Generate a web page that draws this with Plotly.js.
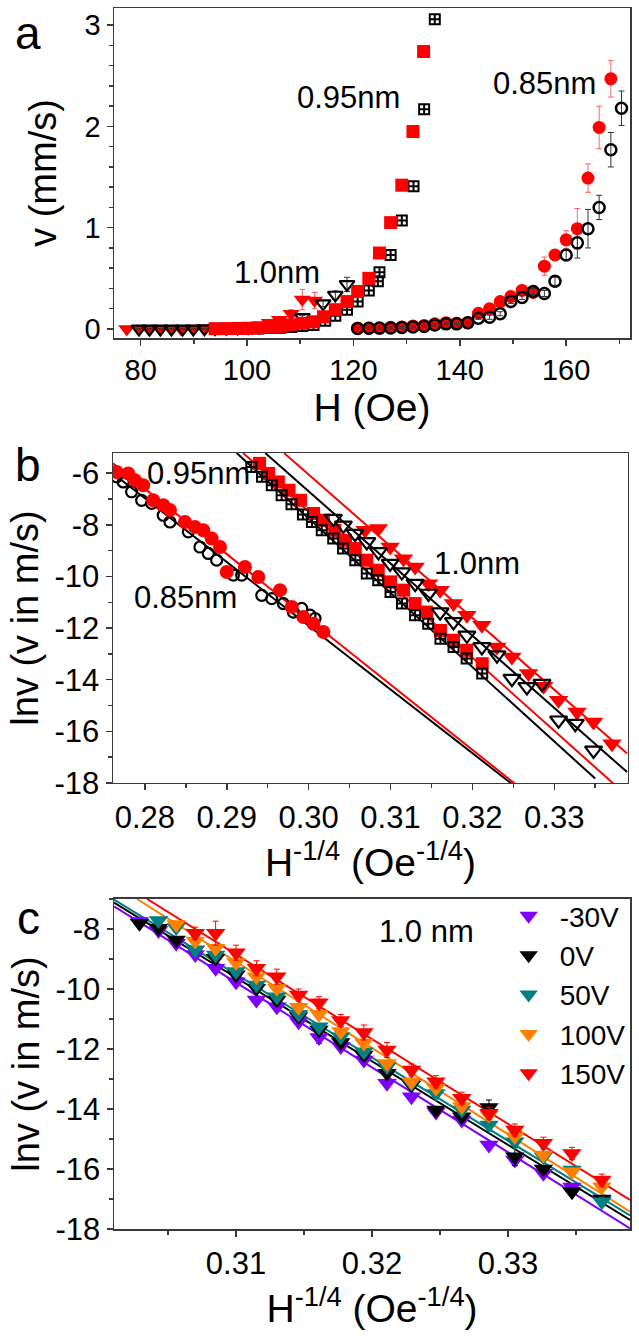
<!DOCTYPE html>
<html><head><meta charset="utf-8">
<script src="https://cdn.plot.ly/plotly-3.0.1.min.js"></script>
<style>html,body{margin:0;padding:0;background:#fff}#chart{width:639px;height:1336px}</style>
</head><body><div id="chart"></div>
<script>
// ---------- Panel a : v (mm/s) vs H (Oe) ----------
const aH_triRed = [77.4, 79.6, 81.5, 83.8, 85.7, 87.6, 89.9, 91.9, 94.0, 96.2, 98.2, 100.2, 102.1, 104.2, 106.1, 108.3, 110.4, 112.7];
const aV_triRed = [0.0, 0.0, 0.0, 0.0, 0.0, 0.0, 0.003, 0.005, 0.006, 0.008, 0.013, 0.022, 0.035, 0.06, 0.09, 0.15, 0.29, 0.28];
const aE_triRed = [0.01, 0.01, 0.01, 0.01, 0.01, 0.01, 0.01, 0.01, 0.01, 0.01, 0.01, 0.01, 0.02, 0.02, 0.03, 0.04, 0.1, 0.08];
const aH_triBlk = [79.7, 81.7, 83.7, 85.8, 87.9, 89.9, 92.0, 94.0, 96.1, 98.2, 100.2, 102.3, 104.3, 106.4, 108.5, 110.4, 114.3, 116.6, 118.8];
const aV_triBlk = [0.0, 0.0, 0.0, 0.0, 0.0, 0.0, 0.003, 0.005, 0.007, 0.01, 0.015, 0.02, 0.03, 0.04, 0.056, 0.115, 0.25, 0.335, 0.44];
const aE_triBlk = [0, 0, 0, 0, 0, 0, 0, 0, 0, 0, 0, 0, 0.005, 0.005, 0.01, 0.02, 0.03, 0.04, 0.07];
const aH_sqRed = [94.0, 96.2, 98.2, 100.1, 102.1, 104.2, 106.2, 108.3, 110.3, 112.5, 114.4, 116.6, 118.8, 120.8, 122.9, 124.9, 127.0, 129.1, 131.2, 133.2];
const aV_sqRed = [0.002, 0.003, 0.004, 0.006, 0.011, 0.016, 0.025, 0.04, 0.056, 0.07, 0.12, 0.19, 0.27, 0.37, 0.50, 0.75, 1.05, 1.42, 1.95, 2.74];
const aH_sqBlk = [94.0, 96.2, 98.2, 100.1, 102.1, 104.2, 106.2, 108.3, 110.4, 112.5, 114.7, 116.6, 118.8, 120.8, 122.9, 124.6, 124.9, 127.0, 129.1, 131.3, 133.3, 135.3];
const aV_sqBlk = [0.001, 0.001, 0.002, 0.003, 0.005, 0.008, 0.012, 0.02, 0.03, 0.04, 0.08, 0.13, 0.19, 0.27, 0.38, 0.47, 0.56, 0.73, 1.07, 1.41, 2.17, 3.06];
const aH_ciRed = [120.8, 122.9, 124.9, 127.0, 129.1, 131.2, 133.3, 135.3, 137.4, 139.4, 141.5, 143.5, 145.6, 147.6, 149.6, 151.7, 153.8, 155.9, 157.9, 160.0, 162.1, 164.1, 166.2, 168.4];
const aV_ciRed = [0.007, 0.007, 0.007, 0.017, 0.02, 0.03, 0.035, 0.05, 0.06, 0.055, 0.06, 0.155, 0.20, 0.27, 0.32, 0.38, 0.36, 0.62, 0.73, 0.88, 0.99, 1.49, 1.99, 2.47];
const aE_ciRed = [0.01, 0.01, 0.01, 0.01, 0.01, 0.01, 0.01, 0.01, 0.01, 0.01, 0.01, 0.02, 0.02, 0.02, 0.03, 0.03, 0.03, 0.09, 0.05, 0.09, 0.2, 0.14, 0.21, 0.18];
const aH_ciBlk = [120.8, 122.9, 124.9, 127.0, 129.1, 131.2, 133.3, 135.3, 137.4, 139.4, 141.5, 143.5, 145.6, 147.6, 149.6, 151.7, 153.8, 155.9, 157.9, 160.0, 162.1, 164.1, 166.2, 168.4, 170.4];
const aV_ciBlk = [0.005, 0.007, 0.008, 0.01, 0.015, 0.02, 0.025, 0.04, 0.05, 0.05, 0.06, 0.105, 0.115, 0.15, 0.27, 0.31, 0.37, 0.35, 0.47, 0.73, 0.85, 0.99, 1.20, 1.77, 2.18];
const aE_ciBlk = [0.01, 0.01, 0.01, 0.01, 0.01, 0.01, 0.01, 0.01, 0.01, 0.01, 0.01, 0.01, 0.02, 0.02, 0.02, 0.02, 0.03, 0.03, 0.04, 0.05, 0.15, 0.19, 0.12, 0.17, 0.17];

// ---------- Panel b : ln v vs H^-1/4 ----------
const bX_ciBlk = [0.27654, 0.27735, 0.27837, 0.27960, 0.28082, 0.28224, 0.28306, 0.28530, 0.28672, 0.28774, 0.28876, 0.29080, 0.29182, 0.29427, 0.29549, 0.29691, 0.29813, 0.29915, 0.30017, 0.30078];
const bY_ciBlk = [-6.14, -6.34, -6.72, -7.05, -7.17, -7.63, -7.89, -8.27, -8.86, -9.11, -9.37, -9.95, -9.95, -10.73, -10.86, -11.05, -11.38, -11.24, -11.50, -11.63];
const bX_ciRed = [0.27654, 0.27796, 0.27878, 0.27979, 0.28101, 0.28224, 0.28306, 0.28489, 0.28611, 0.28713, 0.28815, 0.28917, 0.28999, 0.29222, 0.29385, 0.29650, 0.29793, 0.29935, 0.30058, 0.30180];
const bY_ciRed = [-5.95, -6.01, -6.27, -6.47, -7.05, -7.24, -7.43, -7.89, -8.08, -8.21, -8.53, -8.86, -9.83, -9.63, -10.02, -10.53, -11.18, -11.57, -11.83, -12.15];
const bX_sqBlk = [0.2930, 0.2943, 0.2955, 0.2967, 0.2979, 0.2993, 0.3004, 0.3016, 0.3030, 0.3042, 0.3057, 0.3071, 0.3085, 0.3100, 0.3114, 0.3130, 0.3146, 0.3161, 0.3177, 0.3193, 0.3212];
const bY_sqBlk = [-5.76, -6.14, -6.47, -6.85, -7.20, -7.60, -7.89, -8.21, -8.53, -8.92, -9.37, -9.89, -10.15, -10.60, -11.05, -11.50, -11.83, -12.41, -12.73, -13.18, -13.76];
const bX_sqRed = [0.2940, 0.2951, 0.2963, 0.2976, 0.2990, 0.3006, 0.3018, 0.3032, 0.3045, 0.3057, 0.3071, 0.3085, 0.3100, 0.3116, 0.3130, 0.3144, 0.3161, 0.3177, 0.3193, 0.3212];
const bY_sqRed = [-5.62, -6.01, -6.34, -6.66, -7.05, -7.56, -7.82, -8.21, -8.60, -8.92, -9.37, -9.76, -10.21, -10.53, -11.05, -11.38, -12.09, -12.47, -12.86, -13.38];
const bX_triBlk = [0.30302, 0.30424, 0.30567, 0.3071, 0.30852, 0.30995, 0.31138, 0.31301, 0.31464, 0.31606, 0.31769, 0.31933, 0.32116, 0.32300, 0.32483, 0.32666, 0.32850, 0.33053, 0.33257, 0.33480];
const bY_triBlk = [-7.76, -8.02, -8.34, -8.66, -9.05, -9.50, -9.83, -10.28, -10.66, -11.38, -11.76, -12.28, -12.73, -13.05, -13.96, -14.28, -14.15, -15.57, -15.70, -16.74];
const bX_triRed = [0.30690, 0.30852, 0.30995, 0.31158, 0.31301, 0.31464, 0.31606, 0.31769, 0.31933, 0.32116, 0.32300, 0.32483, 0.32686, 0.3287, 0.33053, 0.33278, 0.33480, 0.33705];
const bY_triRed = [-8.21, -8.14, -8.86, -9.31, -9.63, -10.28, -10.53, -11.05, -11.50, -11.89, -12.73, -13.12, -13.76, -14.25, -14.80, -15.25, -15.64, -16.48];
// fitted lines (end points)
const bFit085Blk_x = [0.2761, 0.3248], bFit085Blk_y = [-6.01, -18.03];
const bFit085Red_x = [0.2761, 0.3252], bFit085Red_y = [-5.62, -18.03];
const bFit095Blk_x = [0.2912, 0.3350], bFit095Blk_y = [-5.22, -17.83];
const bFit095Red_x = [0.2920, 0.33725], bFit095Red_y = [-5.22, -18.03];
const bFit10Blk_x = [0.2947, 0.3389], bFit10Blk_y = [-5.22, -17.58];
const bFit10Red_x = [0.2970, 0.3389], bFit10Red_y = [-5.22, -16.86];

// ---------- Panel c : 1.0 nm, gate voltages ----------
const cX = [0.3029, 0.3043, 0.3056, 0.3070, 0.3085, 0.3100, 0.3115, 0.3130, 0.3146, 0.3161, 0.3177, 0.3194, 0.3211, 0.3229, 0.3247, 0.3266, 0.3286, 0.3305, 0.3326, 0.3347, 0.3369];
const cNames = ['-30V', '0V', '50V', '100V', '150V'];
const cColors = ['#8000FF', '#000000', '#008080', '#FF8000', '#FF0000'];
const cY_m30 = [-7.75, -8.05, -8.48, -8.85, -9.31, -9.76, -10.37, -10.59, -11.09, -11.62, -11.92, -12.37, -13.14, -13.59, -14.10, -14.37, -15.20, -15.70, -16.14, -16.60, -17.05];
const cY_0 = [-7.81, -7.98, -8.37, -8.70, -8.98, -9.53, -9.98, -10.37, -10.92, -11.37, -11.78, -12.20, -12.81, -13.20, -14.03, -14.26, -13.95, -15.59, -16.00, -16.76, -17.00];
const cY_50 = [null, -7.72, -7.95, -8.70, -8.87, -9.42, -9.87, -10.26, -10.84, -11.26, -11.59, -12.09, -12.59, -13.14, -13.48, -14.03, -14.53, -15.09, -15.59, -16.03, -17.09];
const cY_100 = [null, null, -7.85, -8.40, -8.64, -9.12, -9.59, -9.98, -10.61, -10.84, -11.42, -11.80, -12.48, -13.09, -13.31, -13.92, -14.20, -14.92, -15.53, -16.09, -16.59];
const cY_150 = [null, null, null, -8.14, -8.14, -8.79, -9.31, -9.59, -10.20, -10.46, -11.05, -11.45, -12.03, -12.70, -13.09, -13.64, -14.14, -14.70, -15.14, -15.48, -16.37];
const cE_m30 = [0.15, 0.1, 0.1, 0.1, 0.1, 0.1, 0.1, 0.15, 0.1, 0.2, 0.1, 0.1, 0.1, 0.1, 0.1, 0.1, 0.1, 0.1, 0.1, 0.1, 0.1];
const cE_0 = [0.1, 0.1, 0.1, 0.1, 0.1, 0.1, 0.1, 0.1, 0.1, 0.1, 0.1, 0.1, 0.1, 0.1, 0.1, 0.1, 0.25, 0.3, 0.1, 0.1, 0.1];
const cE_50 = [0.1, 0.1, 0.1, 0.1, 0.1, 0.1, 0.1, 0.1, 0.1, 0.1, 0.1, 0.1, 0.1, 0.1, 0.1, 0.1, 0.1, 0.1, 0.1, 0.1, 0.15];
const cE_100 = [0.1, 0.1, 0.1, 0.1, 0.1, 0.1, 0.1, 0.1, 0.1, 0.1, 0.1, 0.1, 0.1, 0.1, 0.1, 0.1, 0.1, 0.1, 0.1, 0.1, 0.1];
const cE_150 = [0.1, 0.1, 0.1, 0.2, 0.4, 0.25, 0.25, 0.25, 0.2, 0.2, 0.2, 0.25, 0.25, 0.2, 0.2, 0.2, 0.2, 0.2, 0.2, 0.2, 0.2];
const cFitX = [[0.30103, 0.33897], [0.30103, 0.33897], [0.30103, 0.33897], [0.30272, 0.33897], [0.30346, 0.33897]];
const cFitY = [[-7.25, -17.98], [-7.12, -17.70], [-7.02, -17.55], [-7.0, -17.42], [-7.0, -17.03]];

// ---------- tick labels ----------
const bYTickVals = [-18, -16, -14, -12, -10, -8, -6];
const bYTickText = ['-18', '-16', '-14', '-12', '-10', '-8', '-6'];
const cYTickVals = [-18, -16, -14, -12, -10, -8];
const cYTickText = ['-18', '-16', '-14', '-12', '-10', '-8'];

const RED = '#FF0000', BLK = '#000000';
const FONT = 'Arial, "Liberation Sans", sans-serif';
const traces = [];
function eb(arr, col) { return {type: 'data', array: arr, visible: true, color: col, thickness: 1, width: 3}; }

// Panel a
traces.push({x: aH_triRed, y: aV_triRed, xaxis: 'x', yaxis: 'y', mode: 'markers', showlegend: false,
  marker: {symbol: 'triangle-down', size: 15, color: RED}, error_y: eb(aE_triRed, 'rgba(255,0,0,0.6)')});
traces.push({x: aH_triBlk, y: aV_triBlk, xaxis: 'x', yaxis: 'y', mode: 'markers', showlegend: false,
  marker: {symbol: 'triangle-down-open', size: 13, color: BLK, line: {width: 2.2, color: BLK}}, error_y: eb(aE_triBlk, '#333')});
traces.push({x: aH_sqBlk, y: aV_sqBlk, xaxis: 'x', yaxis: 'y', mode: 'markers', showlegend: false,
  marker: {symbol: 'square-cross-open', size: 10, color: BLK, line: {width: 2, color: BLK}}});
traces.push({x: aH_sqRed, y: aV_sqRed, xaxis: 'x', yaxis: 'y', mode: 'markers', showlegend: false,
  marker: {symbol: 'square', size: 13, color: RED}});
traces.push({x: aH_ciRed, y: aV_ciRed, xaxis: 'x', yaxis: 'y', mode: 'markers', showlegend: false,
  marker: {symbol: 'circle', size: 13, color: RED}, error_y: eb(aE_ciRed, 'rgba(255,0,0,0.6)')});
traces.push({x: aH_ciBlk, y: aV_ciBlk, xaxis: 'x', yaxis: 'y', mode: 'markers', showlegend: false,
  marker: {symbol: 'circle-open', size: 11, color: BLK, line: {width: 2.5, color: BLK}}, error_y: eb(aE_ciBlk, '#333')});

// Panel b lines
[[bFit085Blk_x, bFit085Blk_y, BLK], [bFit085Red_x, bFit085Red_y, RED], [bFit095Blk_x, bFit095Blk_y, BLK],
 [bFit095Red_x, bFit095Red_y, RED], [bFit10Blk_x, bFit10Blk_y, BLK], [bFit10Red_x, bFit10Red_y, RED]].forEach(l => {
  traces.push({x: l[0], y: l[1], xaxis: 'x2', yaxis: 'y2', mode: 'lines', showlegend: false, line: {color: l[2], width: 2}});
});
traces.push({x: bX_ciBlk, y: bY_ciBlk, xaxis: 'x2', yaxis: 'y2', mode: 'markers', showlegend: false,
  marker: {symbol: 'circle-open', size: 11, color: BLK, line: {width: 2.2, color: BLK}}});
traces.push({x: bX_ciRed, y: bY_ciRed, xaxis: 'x2', yaxis: 'y2', mode: 'markers', showlegend: false,
  marker: {symbol: 'circle', size: 14, color: RED}});
traces.push({x: bX_sqRed, y: bY_sqRed, xaxis: 'x2', yaxis: 'y2', mode: 'markers', showlegend: false,
  marker: {symbol: 'square', size: 13, color: RED}});
traces.push({x: bX_sqBlk, y: bY_sqBlk, xaxis: 'x2', yaxis: 'y2', mode: 'markers', showlegend: false,
  marker: {symbol: 'square-cross-open', size: 10, color: BLK, line: {width: 2, color: BLK}}});
traces.push({x: bX_triRed, y: bY_triRed, xaxis: 'x2', yaxis: 'y2', mode: 'markers', showlegend: false,
  marker: {symbol: 'triangle-down', size: 17, color: RED}});
traces.push({x: bX_triBlk, y: bY_triBlk, xaxis: 'x2', yaxis: 'y2', mode: 'markers', showlegend: false,
  marker: {symbol: 'triangle-down-open', size: 15, color: BLK, line: {width: 2.2, color: BLK}}});

// Panel c
const cYs = [cY_m30, cY_0, cY_50, cY_100, cY_150];
const cEs = [cE_m30, cE_0, cE_50, cE_100, cE_150];
for (let i = 0; i < 5; i++) {
  traces.push({x: cFitX[i], y: cFitY[i], xaxis: 'x3', yaxis: 'y3', mode: 'lines', showlegend: false,
    line: {color: cColors[i], width: 2}});
}
for (let i = 0; i < 5; i++) {
  traces.push({x: cX, y: cYs[i], name: cNames[i], xaxis: 'x3', yaxis: 'y3', mode: 'markers',
    marker: {symbol: 'triangle-down', size: 17, color: cColors[i]}, error_y: eb(cEs[i], cColors[i])});
}

const axBase = {showline: true, mirror: true, linecolor: '#3a3a3a', linewidth: 1.5, ticks: 'outside', ticklen: 6,
  tickwidth: 1.5, tickcolor: '#3a3a3a', showgrid: false, zeroline: false, tickfont: {family: FONT, size: 31, color: '#000'}};
function ax(extra) { return Object.assign({}, axBase, extra); }
function ann(text, xref, yref, x, y, size) {
  return {text: text, xref: xref, yref: yref, x: x, y: y, xanchor: 'center', yanchor: 'middle', showarrow: false,
    font: {family: FONT, size: size, color: '#000'}};
}

const layout = {
  width: 639, height: 1336, paper_bgcolor: '#fff', plot_bgcolor: '#fff',
  margin: {l: 113, r: 9, t: 8, b: 107},
  font: {family: FONT, color: '#000'},
  xaxis: ax({domain: [0.002, 1], anchor: 'y', range: [75, 172], dtick: 20, tick0: 0,
    minor: {dtick: 10, ticklen: 4, ticks: 'outside', tickcolor: '#3a3a3a'},
    tickfont: {family: FONT, size: 29, color: '#000'},
    title: {text: 'H (Oe)', font: {family: FONT, size: 39}, standoff: 0}}),
  yaxis: ax({domain: [0.7297, 1], anchor: 'x', range: [-0.09, 3.17], dtick: 1, tick0: 0,
    minor: {dtick: 0.2, ticklen: 4, ticks: 'outside', tickcolor: '#3a3a3a'},
    tickfont: {family: FONT, size: 29, color: '#000'},
    title: {text: 'v (mm/s)', font: {family: FONT, size: 38}, standoff: 16}}),
  xaxis2: ax({domain: [0, 0.996], anchor: 'y2', range: [0.2761, 0.3390], dtick: 0.01, tick0: 0.28, tickformat: '.2f',
    minor: {dtick: 0.005, ticklen: 4, ticks: 'outside', tickcolor: '#3a3a3a'},
    title: {text: 'H<sup>-1/4</sup> (Oe<sup>-1/4</sup>)', font: {family: FONT, size: 39}, standoff: 0}}),
  yaxis2: ax({domain: [0.3653, 0.6355], anchor: 'x2', range: [-18, -5.22], tickmode: 'array',
    tickvals: bYTickVals, ticktext: bYTickText,
    minor: {dtick: 1, tick0: -18, ticklen: 4, ticks: 'outside', tickcolor: '#3a3a3a'},
    title: {text: 'lnv (v in m/s)', font: {family: FONT, size: 38}, standoff: 4}}),
  xaxis3: ax({domain: [0.002, 1], anchor: 'y3', range: [0.30103, 0.33897], dtick: 0.01, tick0: 0.28, tickformat: '.2f',
    minor: {dtick: 0.005, ticklen: 4, ticks: 'outside', tickcolor: '#3a3a3a'},
    title: {text: 'H<sup>-1/4</sup> (Oe<sup>-1/4</sup>)', font: {family: FONT, size: 39}, standoff: 0}}),
  yaxis3: ax({domain: [0, 0.2703], anchor: 'x3', range: [-18, -7], tickmode: 'array',
    tickvals: cYTickVals, ticktext: cYTickText,
    minor: {dtick: 1, tick0: -18, ticklen: 4, ticks: 'outside', tickcolor: '#3a3a3a'},
    title: {text: 'lnv (v in m/s)', font: {family: FONT, size: 38}, standoff: 4}}),
  showlegend: true,
  legend: {x: 0.744, y: 0.2768, xanchor: 'left', yanchor: 'top', bgcolor: 'rgba(0,0,0,0)',
    font: {family: FONT, size: 28, color: '#000'}, itemwidth: 52, tracegroupgap: 0},
  annotations: [
    ann('a', 'paper', 'paper', -0.164, 0.9795, 46),
    ann('b', 'paper', 'paper', -0.164, 0.626, 46),
    ann('c', 'paper', 'paper', -0.164, 0.255, 46),
    ann('1.0nm', 'x', 'y', 105.7, 0.56, 31),
    ann('0.95nm', 'x', 'y', 119.1, 2.29, 31),
    ann('0.85nm', 'x', 'y', 156.0, 2.42, 31),
    ann('0.95nm', 'x2', 'y2', 0.2866, -6.0, 31),
    ann('0.85nm', 'x2', 'y2', 0.2850, -10.8, 31),
    ann('1.0nm', 'x2', 'y2', 0.3206, -9.49, 31),
    ann('1.0 nm', 'x3', 'y3', 0.32404, -8.1, 31)
  ]
};

Plotly.newPlot('chart', traces, layout, {displayModeBar: false, staticPlot: true});
</script></body></html>
